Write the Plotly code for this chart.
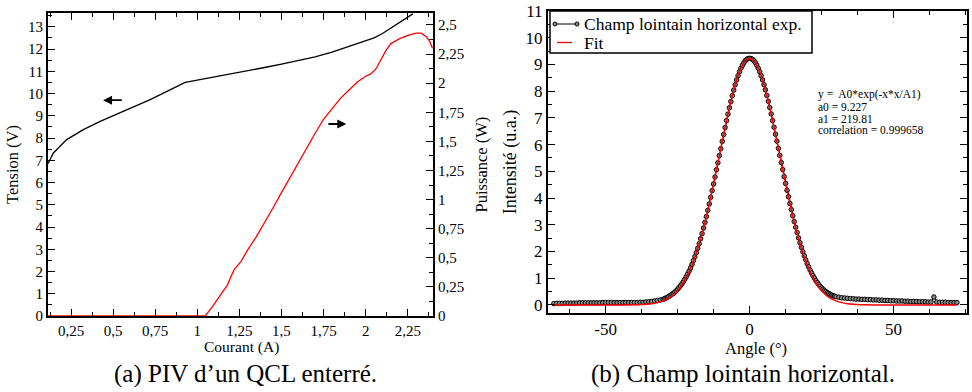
import plotly.graph_objects as go

# ---------------- Left panel data: PIV ----------------
courant_v = [0.113, 0.145, 0.224, 0.323, 0.423, 0.581, 0.72, 0.928, 1.0, 1.1, 1.215, 1.315,
             1.4, 1.5, 1.6, 1.7, 1.8, 1.9, 1.95, 2.0, 2.05, 2.1, 2.15, 2.2, 2.25, 2.28]
tension = [6.85, 7.33, 7.93, 8.38, 8.75, 9.28, 9.73, 10.5, 10.6, 10.73, 10.88, 11.04,
           11.17, 11.32, 11.48, 11.65, 11.86, 12.12, 12.24, 12.35, 12.5, 12.7, 12.95, 13.18, 13.42, 13.58]

courant_p = [0.113, 1.047, 1.09, 1.13, 1.18, 1.2, 1.22, 1.26, 1.3, 1.35, 1.4, 1.45, 1.5, 1.55,
             1.6, 1.65, 1.7, 1.75, 1.8, 1.85, 1.9, 1.95, 2.0, 2.03, 2.06, 2.09, 2.12, 2.15,
             2.2, 2.25, 2.3, 2.33, 2.36, 2.38, 2.397]
puissance = [0.0, 0.0, 0.08, 0.16, 0.27, 0.34, 0.40, 0.47, 0.57, 0.68, 0.80, 0.93, 1.06, 1.19,
             1.32, 1.44, 1.57, 1.69, 1.78, 1.87, 1.94, 2.01, 2.06, 2.08, 2.12, 2.20, 2.28, 2.34,
             2.38, 2.41, 2.43, 2.43, 2.40, 2.36, 2.30]

x1_tickvals = [0.25, 0.5, 0.75, 1, 1.25, 1.5, 1.75, 2, 2.25]
x1_ticktext = ["0,25", "0,5", "0,75", "1", "1,25", "1,5", "1,75", "2", "2,25"]
y2_tickvals = [0, 0.25, 0.5, 0.75, 1, 1.25, 1.5, 1.75, 2, 2.25, 2.5]
y2_ticktext = ["0", "0,25", "0,5", "0,75", "1", "1,25", "1,5", "1,75", "2", "2,25", "2,5"]

# ---------------- Right panel data: far field ----------------
angle_exp = [-68, -67, -66, -65, -64, -63, -62, -61, -60, -59, -58, -57, -56, -55, -54, -53, -52,
             -51, -50, -49, -48, -47, -46, -45, -44, -43, -42, -41, -40, -39, -38, -37, -36, -35,
             -34, -33, -32, -31,
             -30, -29.5, -29, -28.5, -28, -27.5, -27, -26.5, -26, -25.5, -25, -24.5, -24, -23.5,
             -23, -22.5, -22, -21.5, -21, -20.5, -20, -19.5, -19, -18.5, -18, -17.5, -17, -16.5,
             -16, -15.5, -15, -14.5, -14, -13.5, -13, -12.5, -12, -11.5, -11, -10.5, -10, -9.5,
             -9, -8.5, -8, -7.5, -7, -6.5, -6, -5.5, -5, -4.5, -4, -3.5, -3, -2.5, -2, -1.5,
             -1, -0.5, 0,
             0.5, 1, 1.5, 2, 2.5, 3, 3.5, 4, 4.5, 5, 5.5, 6, 6.5, 7, 7.5, 8, 8.5, 9, 9.5, 10,
             10.5, 11, 11.5, 12, 12.5, 13, 13.5, 14, 14.5, 15, 15.5, 16, 16.5, 17, 17.5, 18,
             18.5, 19, 19.5, 20, 20.5, 21, 21.5, 22, 22.5, 23, 23.5, 24, 24.5, 25, 25.5, 26,
             26.5, 27, 27.5, 28, 28.5, 29, 29.5, 30,
             31, 32, 33, 34, 35, 36, 37, 38, 39, 40, 41, 42, 43, 44, 45, 46, 47, 48, 49, 50,
             51, 52, 53, 54, 55, 56, 57, 58, 59, 60, 61, 62, 63, 64, 65, 66, 67, 68, 69, 70,
             71, 72]
intens_exp = [0.05, 0.06, 0.06, 0.06, 0.07, 0.07, 0.07, 0.07, 0.07, 0.08, 0.08, 0.08, 0.08, 0.08,
              0.08, 0.08, 0.08, 0.09, 0.09, 0.09, 0.09, 0.09, 0.09, 0.09, 0.09, 0.09, 0.09, 0.09,
              0.09, 0.09, 0.10, 0.10, 0.11, 0.12, 0.13, 0.15, 0.17, 0.19,
              0.21, 0.24, 0.26, 0.29, 0.32, 0.36, 0.40, 0.43, 0.48, 0.53, 0.59, 0.65, 0.72, 0.79,
              0.87, 0.96, 1.06, 1.16, 1.27, 1.39, 1.52, 1.66, 1.81, 1.96, 2.12, 2.29, 2.48, 2.67,
              2.88, 3.09, 3.31, 3.54, 3.78, 4.03, 4.28, 4.53, 4.79, 5.06, 5.32, 5.59, 5.85, 6.12,
              6.38, 6.64, 6.90, 7.14, 7.38, 7.61, 7.83, 8.04, 8.24, 8.42, 8.58, 8.73, 8.86, 8.97,
              9.06, 9.14, 9.19, 9.22, 9.23,
              9.22, 9.19, 9.14, 9.07, 8.97, 8.86, 8.73, 8.58, 8.42, 8.24, 8.05, 7.84, 7.62, 7.39,
              7.15, 6.90, 6.65, 6.39, 6.13, 5.86, 5.60, 5.33, 5.07, 4.80, 4.55, 4.29, 4.05, 3.80,
              3.57, 3.34, 3.12, 2.91, 2.71, 2.51, 2.33, 2.16, 1.99, 1.84, 1.69, 1.55, 1.43, 1.31,
              1.20, 1.10, 1.01, 0.92, 0.84, 0.77, 0.70, 0.64, 0.59, 0.54, 0.50, 0.46, 0.43, 0.40,
              0.37, 0.35, 0.33, 0.31,
              0.29, 0.27, 0.26, 0.25, 0.24, 0.23, 0.22, 0.22, 0.21, 0.21, 0.20, 0.20, 0.19, 0.19,
              0.18, 0.18, 0.17, 0.17, 0.16, 0.16, 0.15, 0.15, 0.15, 0.14, 0.14, 0.13, 0.13, 0.13,
              0.12, 0.12, 0.12, 0.11, 0.11, 0.30, 0.11, 0.10, 0.10, 0.10, 0.09, 0.09, 0.09, 0.09]

angle_fit = [-68, -60, -50, -45, -40, -38, -36, -34, -32, -30, -29, -28, -27, -26, -25, -24, -23,
             -22, -21, -20, -19, -18, -17, -16, -15, -14, -13, -12, -11, -10, -9, -8, -7, -6, -5,
             -4, -3, -2, -1, 0, 1, 2, 3, 4, 5, 6, 7, 8, 9, 10, 11, 12, 13, 14, 15, 16, 17, 18, 19,
             20, 21, 22, 23, 24, 25, 26, 27, 28, 29, 30, 32, 34, 36, 38, 40, 45, 50, 60, 72]
intens_fit = [0.0, 0.0, 0.0, 0.001, 0.006, 0.013, 0.025, 0.048, 0.088, 0.154, 0.201, 0.261, 0.335,
              0.426, 0.537, 0.672, 0.832, 1.021, 1.241, 1.495, 1.786, 2.113, 2.478, 2.879, 3.315,
              3.783, 4.277, 4.792, 5.321, 5.854, 6.383, 6.896, 7.384, 7.833, 8.235, 8.579, 8.857,
              9.061, 9.185, 9.227, 9.185, 9.061, 8.857, 8.579, 8.235, 7.833, 7.384, 6.896, 6.383,
              5.854, 5.321, 4.792, 4.277, 3.783, 3.315, 2.879, 2.478, 2.113, 1.786, 1.495, 1.241,
              1.021, 0.832, 0.672, 0.537, 0.426, 0.335, 0.261, 0.201, 0.154, 0.088, 0.048, 0.025,
              0.013, 0.006, 0.001, 0.0, 0.0, 0.0]

assert len(angle_exp) == len(intens_exp)
assert len(angle_fit) == len(intens_fit)

series_names = ["Champ lointain horizontal exp.", "Fit"]
fit_text = ["y =  A0*exp(-x*x/A1)", "a0 = 9.227", "a1 = 219.81", "correlation = 0.999658"]

# ---------------- Layout helpers ----------------
W, H = 972, 392
def px(x):
    return x / W
def py(y):
    return 1 - y / H

SERIF = "Liberation Serif, Times New Roman, serif"

fig = go.Figure()

fig.add_trace(go.Scatter(x=courant_v, y=tension, mode="lines", line=dict(color="black", width=1.3),
                         xaxis="x", yaxis="y", showlegend=False))
fig.add_trace(go.Scatter(x=courant_p, y=puissance, mode="lines", line=dict(color="red", width=1.3),
                         xaxis="x", yaxis="y2", showlegend=False))

fig.add_trace(go.Scatter(x=angle_exp, y=intens_exp, mode="lines+markers",
                         name=series_names[0], showlegend=False,
                         line=dict(color="black", width=1),
                         marker=dict(symbol="circle", size=4.5, color="#8a8a8a",
                                     line=dict(color="black", width=1)),
                         xaxis="x2", yaxis="y3"))
fig.add_trace(go.Scatter(x=angle_fit, y=intens_fit, mode="lines", name=series_names[1],
                         showlegend=False,
                         line=dict(color="red", width=1.5, shape="spline"),
                         xaxis="x2", yaxis="y3"))

tickfont_l = dict(family=SERIF, size=15, color="black")
tickfont_r = dict(family=SERIF, size=17, color="black")
common = dict(showline=True, linecolor="black", linewidth=2, ticks="inside", ticklen=7,
              tickwidth=1.2, tickcolor="black", showgrid=False, zeroline=False,
              automargin=False)

fig.update_layout(
    template="none",
    font=dict(family=SERIF, color="black"),
    width=W, height=H, margin=dict(l=0, r=0, t=0, b=0, autoexpand=False),
    paper_bgcolor="white", plot_bgcolor="white",
    xaxis=dict(domain=[px(48), px(433)], range=[0.113, 2.4], anchor="y",
               tickmode="array", tickvals=x1_tickvals, ticktext=x1_ticktext,
               mirror="ticks", tickfont=tickfont_l,
               minor=dict(tickmode="linear", tick0=0, dtick=0.125, ticks="inside", ticklen=4,
                          tickcolor="black", tickwidth=1.2),
               **common),
    yaxis=dict(domain=[py(316), py(13)], range=[0, 13.62], anchor="x",
               tickmode="linear", tick0=0, dtick=1, tickfont=tickfont_l,
               minor=dict(tickmode="linear", tick0=0, dtick=0.5, ticks="inside", ticklen=4,
                          tickcolor="black", tickwidth=1.2),
               title=dict(text="Tension (V)", font=dict(family=SERIF, size=16.5, color="black"),
                          standoff=5),
               **common),
    yaxis2=dict(overlaying="y", side="right", range=[0, 2.603], anchor="x",
                tickmode="array", tickvals=y2_tickvals, ticktext=y2_ticktext, tickfont=tickfont_l,
                minor=dict(tickmode="linear", tick0=0, dtick=0.125, ticks="inside", ticklen=4,
                           tickcolor="black", tickwidth=1.2),
                title=dict(text="Puissance (W)", font=dict(family=SERIF, size=16.5, color="black"),
                           standoff=12),
                **common),
    xaxis2=dict(domain=[px(548), px(967)], range=[-70, 75.5], anchor="y3",
                tickmode="array", tickvals=[-50, 0, 50], ticktext=["-50", "0", "50"],
                mirror="ticks", tickfont=tickfont_r,
                minor=dict(tickmode="linear", tick0=0, dtick=12.5, ticks="inside", ticklen=4,
                           tickcolor="black", tickwidth=1.2),
                **common),
    yaxis3=dict(domain=[py(313), py(11)], range=[-0.3, 11], anchor="x2",
                tickmode="linear", tick0=0, dtick=1, mirror="ticks", tickfont=tickfont_r,
                minor=dict(tickmode="linear", tick0=0, dtick=0.5, ticks="inside", ticklen=4,
                           tickcolor="black", tickwidth=1.2),
                title=dict(text="Intensité (u.a.)", font=dict(family=SERIF, size=18, color="black"),
                           standoff=4),
                **common),
)

shapes = []
# legend box (drawn by hand so that it stays as compact as in the original)
shapes.append(dict(type="rect", xref="paper", yref="paper", x0=px(550), x1=px(812),
                   y0=py(53), y1=py(11), fillcolor="white", line=dict(color="black", width=1.5),
                   layer="above"))
shapes.append(dict(type="line", xref="paper", yref="paper", x0=px(555), x1=px(577),
                   y0=py(24), y1=py(24), line=dict(color="black", width=1), layer="above"))
for cx in (555, 577):
    shapes.append(dict(type="circle", xref="paper", yref="paper", x0=px(cx - 2), x1=px(cx + 2),
                       y0=py(26), y1=py(22), fillcolor="#8a8a8a",
                       line=dict(color="black", width=1), layer="above"))
shapes.append(dict(type="line", xref="paper", yref="paper", x0=px(557), x1=px(572),
                   y0=py(42.5), y1=py(42.5), line=dict(color="red", width=1.3), layer="above"))

annotations = []
for name, yy in zip(series_names, [24, 42.5]):
    annotations.append(dict(x=px(582), y=py(yy), xref="paper", yref="paper", text=name,
                            showarrow=False, xanchor="left", yanchor="middle",
                            font=dict(family=SERIF, size=17.5, color="black")))
# x-axis titles
annotations.append(dict(x=px(241), y=py(347), xref="paper", yref="paper", text="Courant (A)",
                        showarrow=False, xanchor="center", yanchor="middle",
                        font=dict(family=SERIF, size=15.5, color="black")))
annotations.append(dict(x=px(756), y=py(348), xref="paper", yref="paper", text="Angle (°)",
                        showarrow=False, xanchor="center", yanchor="middle",
                        font=dict(family=SERIF, size=16.5, color="black")))
# direction arrows on the left panel
annotations.append(dict(x=0.44, y=9.7, ax=0.56, ay=9.7, xref="x", yref="y", axref="x", ayref="y",
                        text="", showarrow=True, arrowhead=2, arrowsize=1, arrowwidth=1.8,
                        arrowcolor="black"))
annotations.append(dict(x=1.885, y=8.63, ax=1.77, ay=8.63, xref="x", yref="y", axref="x", ayref="y",
                        text="", showarrow=True, arrowhead=2, arrowsize=1, arrowwidth=1.8,
                        arrowcolor="black"))
# fit text
for t, yy in zip(fit_text, [95, 107, 118.5, 130]):
    annotations.append(dict(x=px(816), y=py(yy), xref="paper", yref="paper", text=t,
                            showarrow=False, xanchor="left", yanchor="middle",
                            font=dict(family=SERIF, size=11.5, color="black")))
# captions
annotations.append(dict(x=px(245), y=py(374), xref="paper", yref="paper",
                        text="(a) PIV d’un QCL enterré.", showarrow=False,
                        xanchor="center", yanchor="middle",
                        font=dict(family=SERIF, size=25, color="black")))
annotations.append(dict(x=px(743), y=py(374), xref="paper", yref="paper",
                        text="(b) Champ lointain horizontal.", showarrow=False,
                        xanchor="center", yanchor="middle",
                        font=dict(family=SERIF, size=25, color="black")))
fig.update_layout(annotations=annotations, shapes=shapes)

fig.write_html("out.html", config={"displayModeBar": False},
               post_script="document.body.style.margin='0';")
